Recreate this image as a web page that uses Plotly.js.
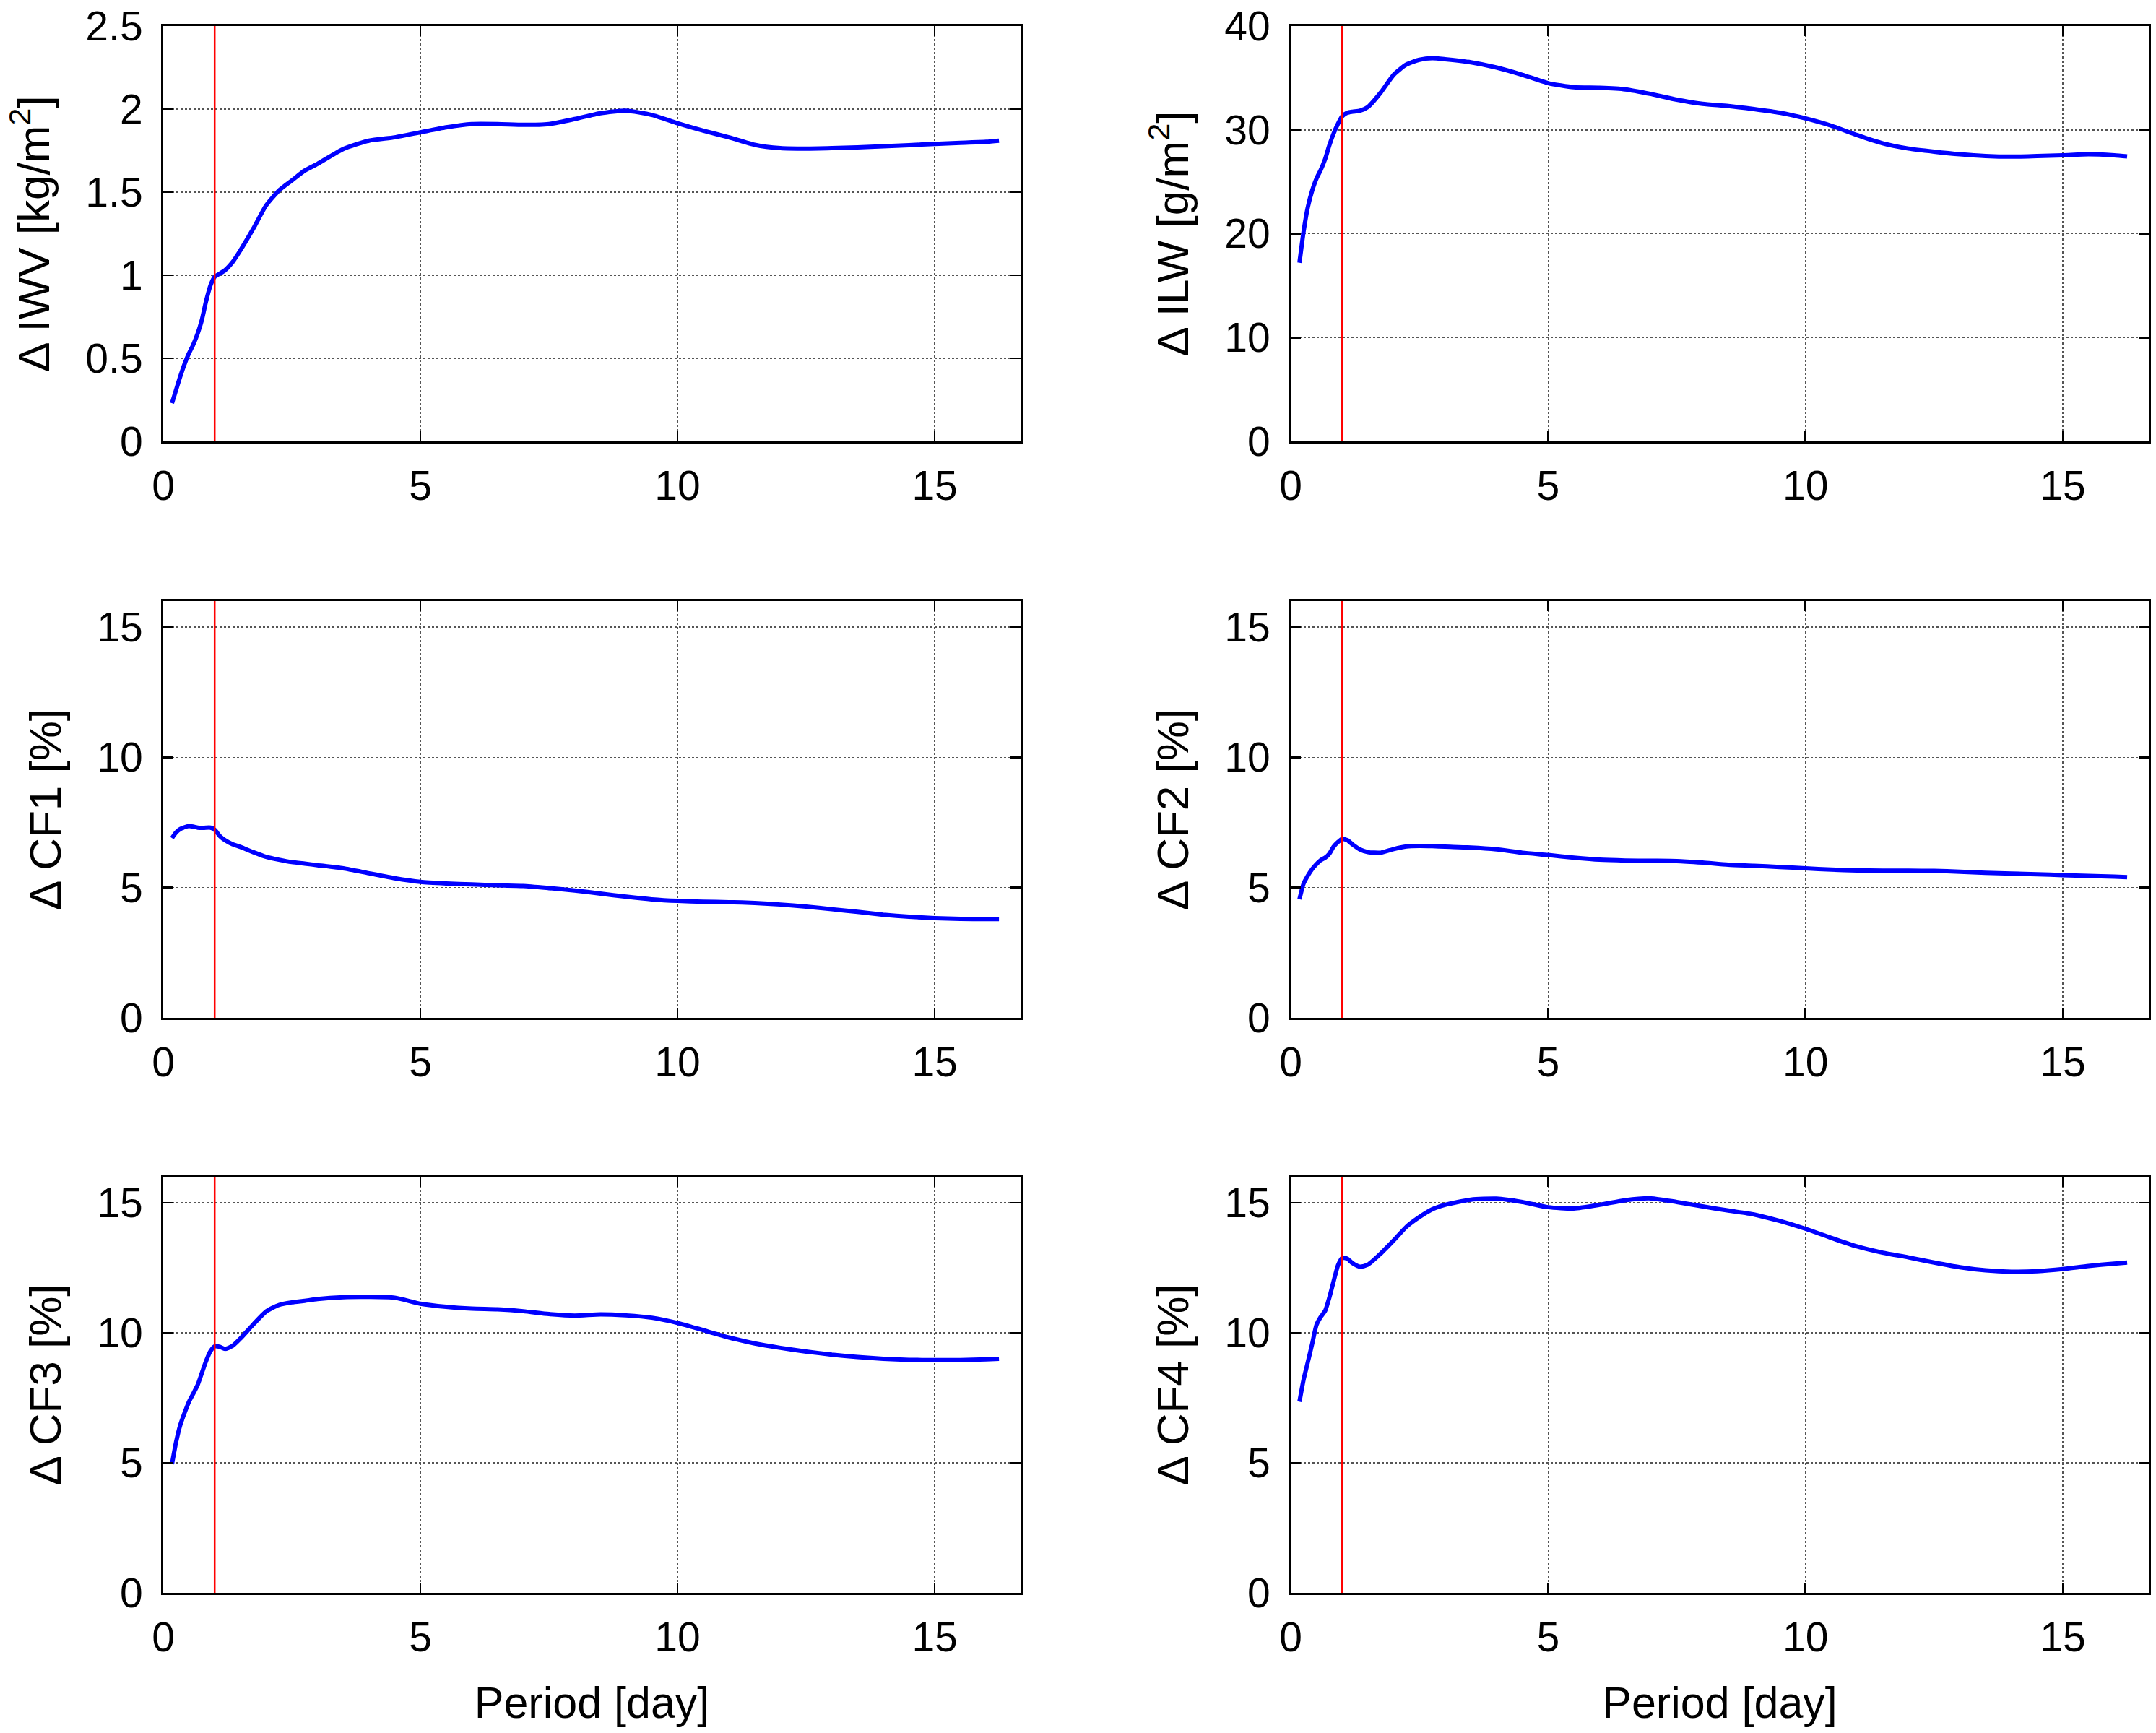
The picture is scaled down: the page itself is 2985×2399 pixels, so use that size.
<!DOCTYPE html>
<html>
<head>
<meta charset="utf-8">
<script src="https://cdn.plot.ly/plotly-3.0.1.min.js"></script>
<style>
    html, body { margin: 0; padding: 0; background: #ffffff; }
    #chart { width: 2985px; height: 2399px; }
</style>
</head>
<body>
<div id="chart"></div>
<script>
// period axis (days) shared by all six panels
const periodDays = [
    0.17, 0.25, 0.33, 0.42, 0.5, 0.58, 0.67, 0.75, 0.83, 0.92,
    1.0, 1.1, 1.2, 1.35, 1.5, 1.75, 2.0, 2.25, 2.5, 2.75,
    3.0, 3.5, 4.0, 4.5, 5.0, 5.5, 6.0, 6.5, 7.0, 7.5,
    8.0, 8.5, 9.0, 9.5, 10.0, 10.5, 11.0, 11.5, 12.0, 12.5,
    13.0, 13.5, 14.0, 14.5, 15.0, 15.5, 16.0, 16.25,
];

const deltaIwv = [
    0.23, 0.31, 0.39, 0.47, 0.53, 0.58, 0.65, 0.73, 0.84, 0.94,
    0.99, 1.01, 1.03, 1.08, 1.15, 1.28, 1.42, 1.51, 1.57, 1.63,
    1.67, 1.76, 1.81, 1.83, 1.86, 1.89, 1.91, 1.91, 1.905, 1.91,
    1.94, 1.975, 1.99, 1.965, 1.915, 1.87, 1.83, 1.785, 1.765, 1.762,
    1.765, 1.77, 1.776, 1.783, 1.79, 1.797, 1.803, 1.81,
];

const deltaIlw = [
    17.2, 20.2, 22.5, 24.2, 25.3, 26.1, 27.2, 28.5, 29.6, 30.6,
    31.3, 31.65, 31.75, 31.85, 32.2, 33.6, 35.3, 36.3, 36.75, 36.9,
    36.8, 36.5, 36.0, 35.3, 34.5, 34.1, 34.05, 33.9, 33.45, 32.9,
    32.5, 32.3, 32.0, 31.65, 31.1, 30.4, 29.5, 28.7, 28.2, 27.9,
    27.65, 27.48, 27.42, 27.48, 27.55, 27.65, 27.55, 27.45,
];

const deltaCf1 = [
    6.9, 7.12, 7.25, 7.32, 7.36, 7.34, 7.3, 7.29, 7.3, 7.3,
    7.22, 6.98, 6.82, 6.66, 6.56, 6.36, 6.18, 6.07, 5.98, 5.92,
    5.86, 5.74, 5.55, 5.36, 5.22, 5.16, 5.12, 5.09, 5.06, 4.98,
    4.89, 4.77, 4.65, 4.55, 4.49, 4.46, 4.44, 4.41, 4.35, 4.27,
    4.17, 4.07, 3.96, 3.88, 3.83, 3.8, 3.79, 3.79,
];

const deltaCf2 = [
    4.55, 5.15, 5.45, 5.72, 5.9, 6.05, 6.15, 6.3, 6.56, 6.75,
    6.87, 6.82, 6.66, 6.46, 6.36, 6.34, 6.48, 6.58, 6.6, 6.59,
    6.57, 6.54, 6.47, 6.34, 6.25, 6.15, 6.07, 6.04, 6.03, 6.02,
    5.96, 5.88, 5.84, 5.79, 5.74, 5.69, 5.66, 5.65, 5.65, 5.64,
    5.61, 5.57, 5.54, 5.51, 5.48, 5.45, 5.42, 5.4,
];

const deltaCf3 = [
    4.95, 5.8, 6.45, 6.95, 7.35, 7.65, 8.0, 8.45, 8.9, 9.3,
    9.48, 9.46, 9.38, 9.5, 9.78, 10.32, 10.82, 11.07, 11.17, 11.23,
    11.3, 11.37, 11.38, 11.35, 11.12, 11.0, 10.93, 10.9, 10.83, 10.72,
    10.66, 10.71, 10.67, 10.58, 10.38, 10.1, 9.82, 9.59, 9.42, 9.28,
    9.16, 9.07, 9.0, 8.96, 8.95, 8.95, 8.98, 9.0,
];

const deltaCf4 = [
    7.35, 8.2, 8.85, 9.6, 10.3, 10.6, 10.85, 11.35, 11.95, 12.6,
    12.88, 12.85, 12.68, 12.54, 12.62, 13.05, 13.55, 14.08, 14.45, 14.75,
    14.92, 15.12, 15.16, 15.03, 14.83, 14.78, 14.92, 15.1, 15.17, 15.03,
    14.86, 14.7, 14.55, 14.3, 14.0, 13.65, 13.32, 13.08, 12.9, 12.7,
    12.52, 12.4, 12.35, 12.37, 12.45, 12.57, 12.66, 12.7,
];

const diurnalPeriod = 1;
const periodRange = [0, 16.67];
const periodTicks = [0, 5, 10, 15];
const iwvTicks = [0, 0.5, 1, 1.5, 2, 2.5];
const ilwTicks = [0, 10, 20, 30, 40];
const cfTicks = [0, 5, 10, 15];

const panels = [
    { values: deltaIwv, label: "Δ IWV [kg/m<sup>2</sup>]", range: [0, 2.5], ticks: iwvTicks },
    { values: deltaIlw, label: "Δ ILW [g/m<sup>2</sup>]", range: [0, 40], ticks: ilwTicks },
    { values: deltaCf1, label: "Δ CF1 [%]", range: [0, 16], ticks: cfTicks },
    { values: deltaCf2, label: "Δ CF2 [%]", range: [0, 16], ticks: cfTicks },
    { values: deltaCf3, label: "Δ CF3 [%]", range: [0, 16], ticks: cfTicks },
    { values: deltaCf4, label: "Δ CF4 [%]", range: [0, 16], ticks: cfTicks },
];

const W = 2985;
const H = 2399;
const columnDomains = [[226 / W, 1413 / W], [1787 / W, 2975 / W]];
const rowDomains = [
    [1 - 611 / H, 1 - 36 / H],
    [1 - 1409 / H, 1 - 832 / H],
    [1 - 2205 / H, 1 - 1629 / H],
];

const fontFamily = "\"Liberation Sans\", Arial, Helvetica, sans-serif";

const commonAxis = {
    showline: true,
    linecolor: "#000000",
    linewidth: 3,
    mirror: "ticks",
    ticks: "inside",
    ticklen: 14,
    tickwidth: 2.5,
    tickcolor: "#000000",
    showgrid: true,
    gridcolor: "#555555",
    gridwidth: 1.6,
    griddash: "dot",
    zeroline: false,
    tickfont: { size: 57, color: "#000000" },
    fixedrange: true,
};

const traces = [];
const layout = {
    width: W,
    height: H,
    margin: { l: 0, r: 0, t: 0, b: 0 },
    paper_bgcolor: "#ffffff",
    plot_bgcolor: "#ffffff",
    showlegend: false,
    font: { family: fontFamily, color: "#000000", size: 57 },
    shapes: [],
};

panels.forEach((panel, index) => {
    const n = index + 1;
    const suffix = n === 1 ? "" : String(n);
    const col = index % 2;
    const row = Math.floor(index / 2);

    traces.push({
        type: "scatter",
        mode: "lines",
        x: periodDays,
        y: panel.values,
        xaxis: "x" + suffix,
        yaxis: "y" + suffix,
        line: { color: "#0000ff", width: 6, shape: "spline", smoothing: 0.6 },
        hoverinfo: "skip",
    });

    const xaxis = {
        ...commonAxis,
        domain: columnDomains[col],
        anchor: "y" + suffix,
        range: periodRange,
        tickvals: periodTicks,
        ticklabelstandoff: 10,
    };
    if (row === 2) {
        xaxis.title = { text: "Period [day]", font: { size: 61 }, standoff: 38 };
    }
    layout["xaxis" + suffix] = xaxis;

    layout["yaxis" + suffix] = {
        ...commonAxis,
        domain: rowDomains[row],
        anchor: "x" + suffix,
        range: panel.range,
        tickvals: panel.ticks,
        ticklabelstandoff: 14,
        title: { text: panel.label, font: { size: 62 }, standoff: 30 },
    };

    layout.shapes.push({
        type: "line",
        xref: "x" + suffix,
        yref: "y" + suffix + " domain",
        x0: diurnalPeriod,
        x1: diurnalPeriod,
        y0: 0,
        y1: 1,
        line: { color: "#ff0000", width: 2.5 },
        layer: "above",
    });
});

Plotly.newPlot("chart", traces, layout, { displayModeBar: false, staticPlot: true });
</script>
</body>
</html>
